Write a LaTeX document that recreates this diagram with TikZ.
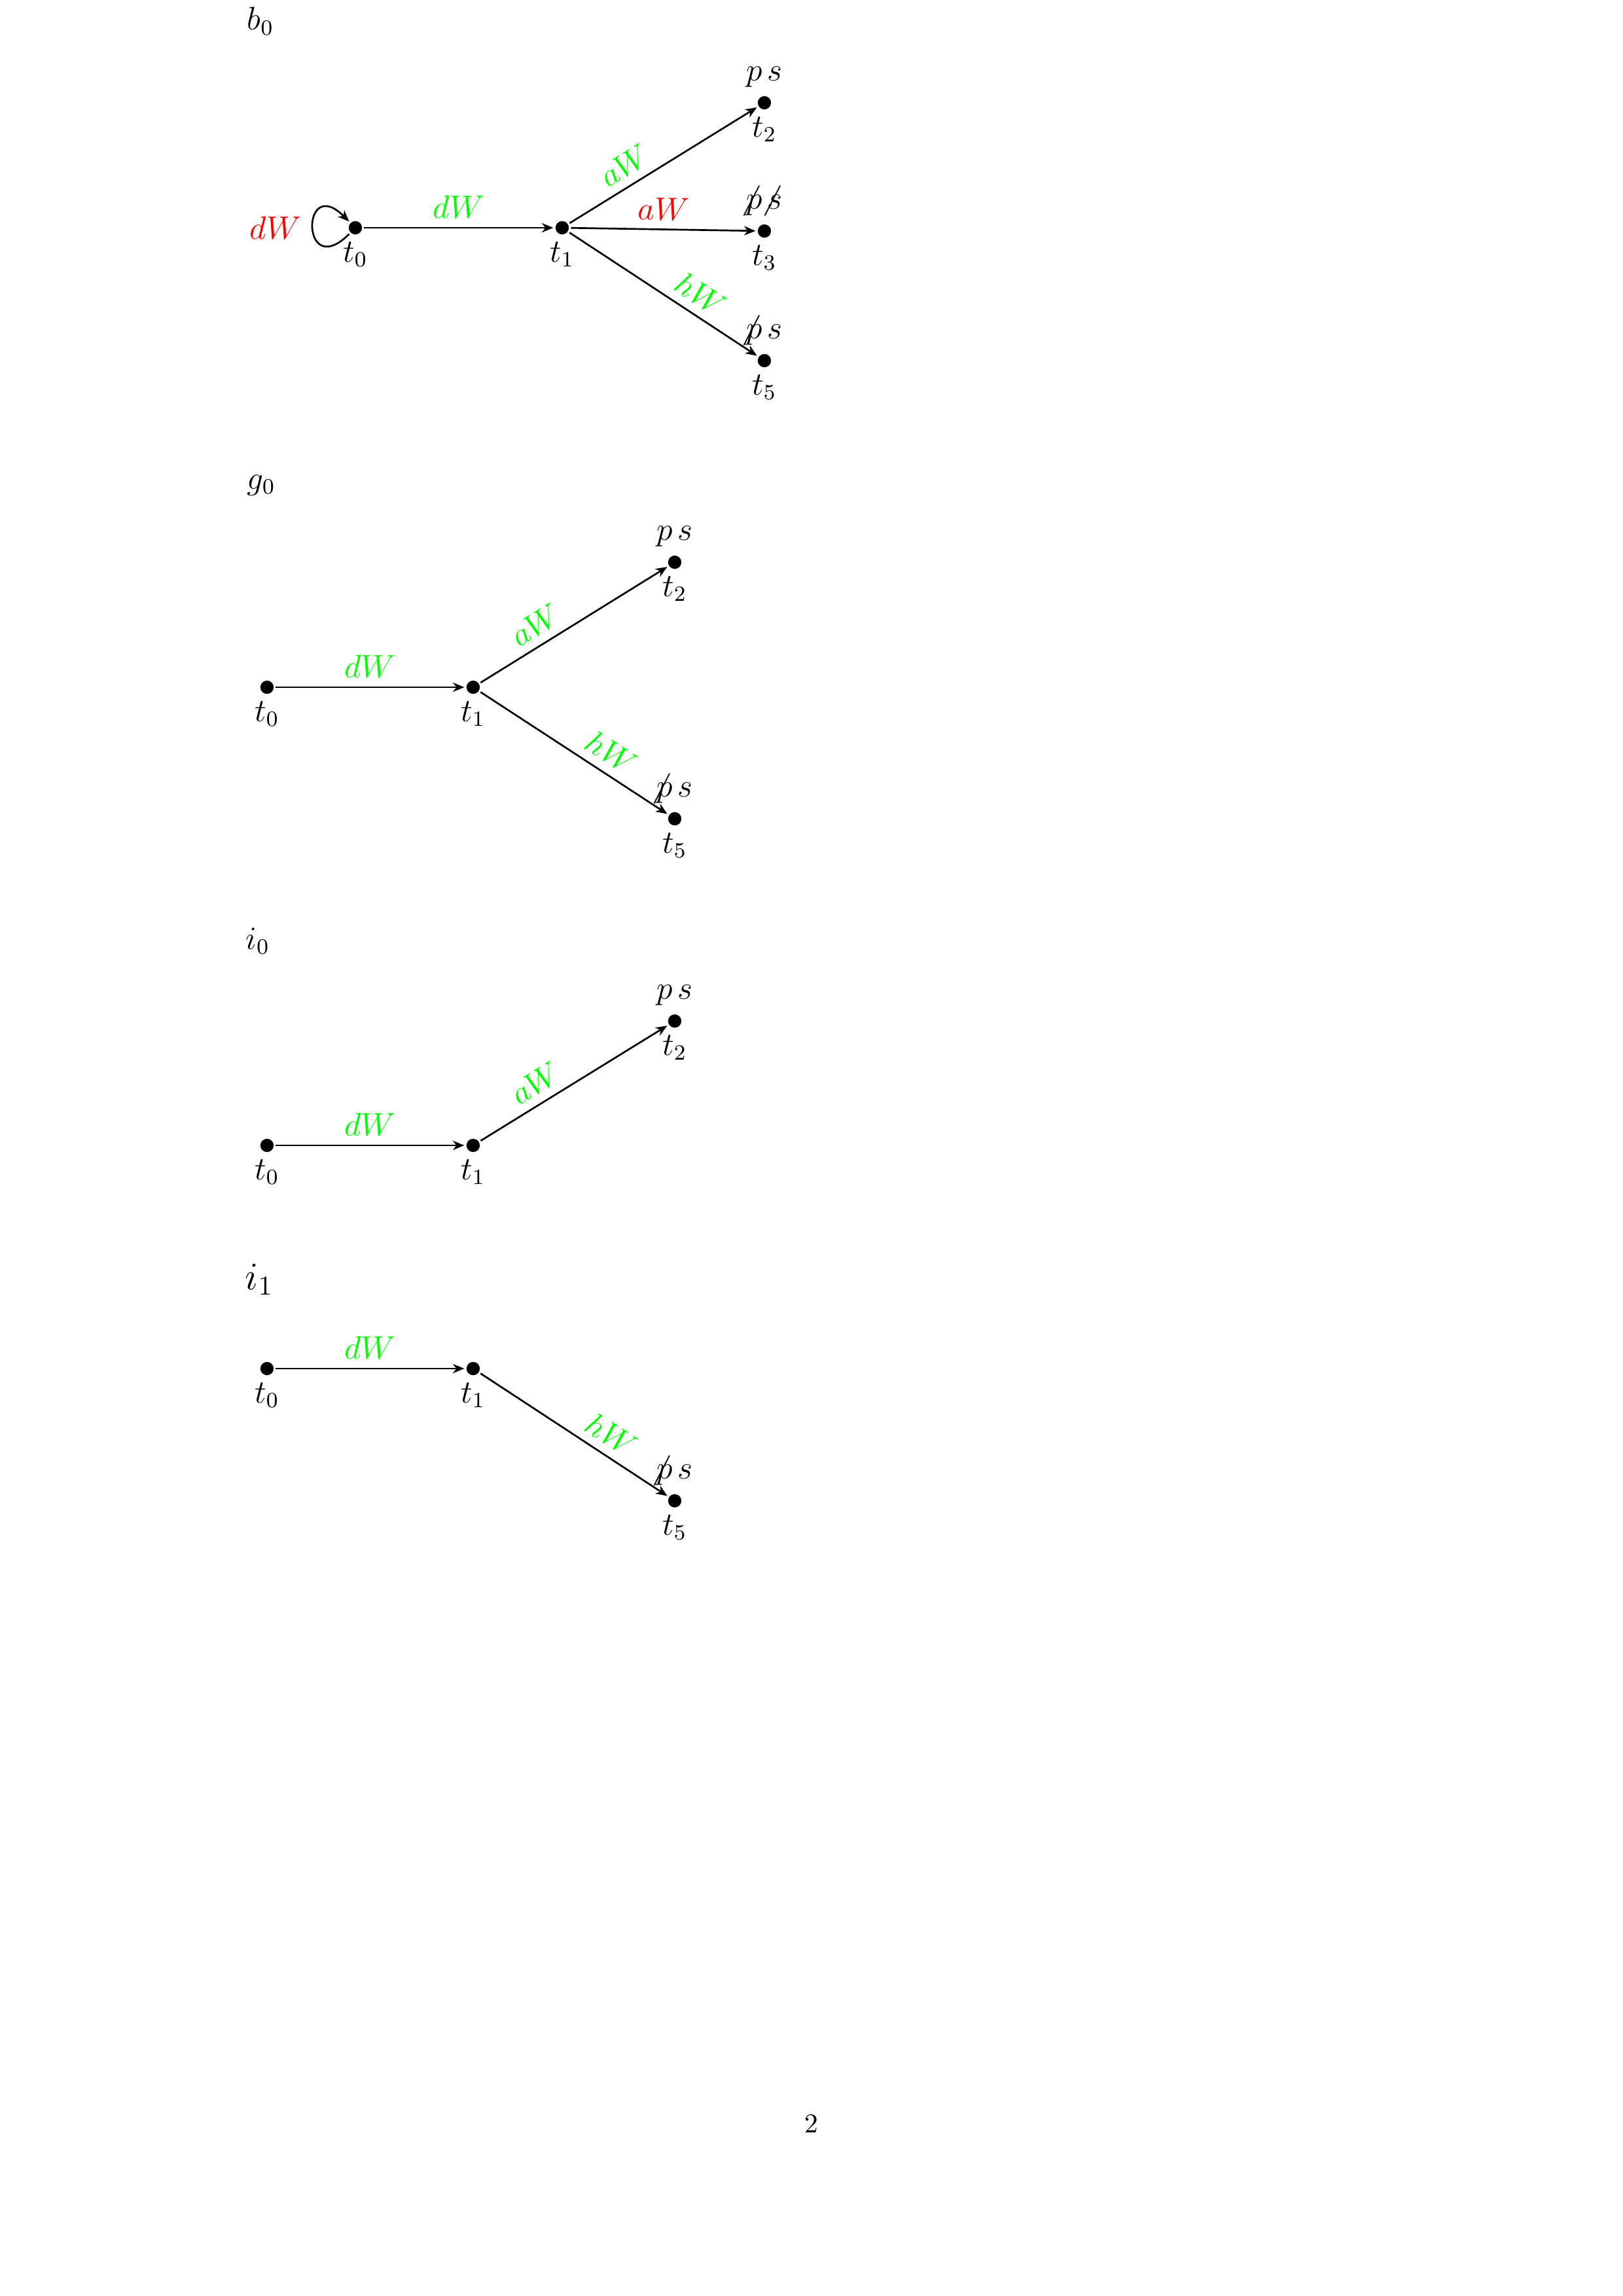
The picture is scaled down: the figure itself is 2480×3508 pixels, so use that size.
\documentclass[tikz,border=0pt]{standalone}
\usetikzlibrary{arrows.meta,calc}
\newcommand{\xnot}{\mkern-4mu{\not}\mkern4mu}
\begin{document}
\begin{tikzpicture}[x=0.2409pt,y=-0.2409pt,
  dot/.style={circle,fill=black,draw=none,minimum size=4.9pt,inner sep=0pt,outer sep=0.8pt},
  edge/.style={line width=0.65pt,-{Stealth[length=4.2pt,width=3.4pt,inset=1.3pt]}},
  elab/.style={font=\large,inner sep=3.4pt,outer sep=0pt,sloped,above},
  good/.style={text={rgb,1:red,0;green,1;blue,0}},
  bad/.style={text=red},
  tlab/.style={font=\large,anchor=base,inner sep=0pt},
  title/.style={font=\large,anchor=base west,inner sep=0pt}]
\useasboundingbox (0,0) rectangle (2480,3508);

% ---------- b0 ----------
\node[title] (btitle) at (377,46) {$b_0$};
\node[dot] (b-t0) at (543,348) {};
\node[dot] (b-t1) at (859,348) {};
\node[dot] (b-t2) at (1168,157) {};
\node[dot] (b-t3) at (1168,353) {};
\node[dot] (b-t5) at (1168,551) {};
\node[tlab] (b-l0) at ($(b-t0)+(0,52)$) {$t_0$};
\node[tlab] (b-l1) at ($(b-t1)+(0,52)$) {$t_1$};
\node[tlab] (b-l2) at ($(b-t2)+(0,52)$) {$t_2$};
\node[tlab] (b-l3) at ($(b-t3)+(0,52)$) {$t_3$};
\node[tlab] (b-l5) at ($(b-t5)+(0,52)$) {$t_5$};
\node[tlab] (b-p2) at ($(b-t2)+(0,-34)$) {$p\,s$};
\node[tlab] (b-p3) at ($(b-t3)+(0,-34)$) {$\xnot p\,\xnot s$};
\node[tlab] (b-p5) at ($(b-t5)+(0,-34)$) {$\xnot p\,s$};
\draw[edge] (b-t0.south west) .. controls +(-74,74) and +(-74,-74) .. (b-t0.north west)
  node[pos=0.5,left,font=\large,bad,inner sep=4pt] (b-loop) {$dW$};
\draw[edge] (b-t0) -- node[elab,good] (b-e01) {$dW$} (b-t1);
\draw[edge] (b-t1) -- node[elab,good,pos=0.35] (b-e12) {$aW$} (b-t2);
\draw[edge] (b-t1) -- node[elab,bad] (b-e13) {$aW$} (b-t3);
\draw[edge] (b-t1) -- node[elab,good,pos=0.64] (b-e15) {$hW$} (b-t5);

% ---------- g0 ----------
\node[title] (gtitle) at (377,747) {$g_0$};
\node[dot] (g-t0) at (408,1050) {};
\node[dot] (g-t1) at (723,1050) {};
\node[dot] (g-t2) at (1031,859) {};
\node[dot] (g-t5) at (1031,1251) {};
\node[tlab] (g-l0) at ($(g-t0)+(0,52)$) {$t_0$};
\node[tlab] (g-l1) at ($(g-t1)+(0,52)$) {$t_1$};
\node[tlab] (g-l2) at ($(g-t2)+(0,52)$) {$t_2$};
\node[tlab] (g-l5) at ($(g-t5)+(0,52)$) {$t_5$};
\node[tlab] (g-p2) at ($(g-t2)+(0,-34)$) {$p\,s$};
\node[tlab] (g-p5) at ($(g-t5)+(0,-34)$) {$\xnot p\,s$};
\draw[edge] (g-t0) -- node[elab,good] (g-e01) {$dW$} (g-t1);
\draw[edge] (g-t1) -- node[elab,good,pos=0.35] (g-e12) {$aW$} (g-t2);
\draw[edge] (g-t1) -- node[elab,good,pos=0.64] (g-e15) {$hW$} (g-t5);

% ---------- i0 ----------
\node[title] (ititle) at (375,1450) {$i_0$};
\node[dot] (i-t0) at (408,1750) {};
\node[dot] (i-t1) at (723,1750) {};
\node[dot] (i-t2) at (1031,1560) {};
\node[tlab] (i-l0) at ($(i-t0)+(0,52)$) {$t_0$};
\node[tlab] (i-l1) at ($(i-t1)+(0,52)$) {$t_1$};
\node[tlab] (i-l2) at ($(i-t2)+(0,52)$) {$t_2$};
\node[tlab] (i-p2) at ($(i-t2)+(0,-34)$) {$p\,s$};
\draw[edge] (i-t0) -- node[elab,good] (i-e01) {$dW$} (i-t1);
\draw[edge] (i-t1) -- node[elab,good,pos=0.35] (i-e12) {$aW$} (i-t2);

% ---------- i1 ----------
\node[title,font=\Large] (jtitle) at (374,1970) {$i_1$};
\node[dot] (j-t0) at (408,2091) {};
\node[dot] (j-t1) at (723,2091) {};
\node[dot] (j-t5) at (1031,2293) {};
\node[tlab] (j-l0) at ($(j-t0)+(0,52)$) {$t_0$};
\node[tlab] (j-l1) at ($(j-t1)+(0,52)$) {$t_1$};
\node[tlab] (j-l5) at ($(j-t5)+(0,52)$) {$t_5$};
\node[tlab] (j-p5) at ($(j-t5)+(0,-34)$) {$\xnot p\,s$};
\draw[edge] (j-t0) -- node[elab,good] (j-e01) {$dW$} (j-t1);
\draw[edge] (j-t1) -- node[elab,good,pos=0.64] (j-e15) {$hW$} (j-t5);

% page number
\node[anchor=base,inner sep=0pt] (pagenum) at (1240,3258) {2};
\end{tikzpicture}
\end{document}
